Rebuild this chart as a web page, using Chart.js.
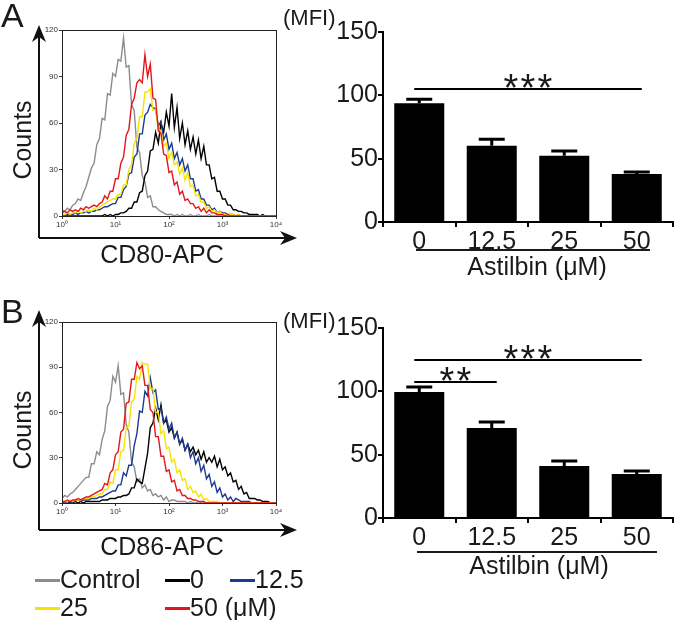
<!DOCTYPE html>
<html>
<head>
<meta charset="utf-8">
<script src="https://cdn.jsdelivr.net/npm/chart.js@4.4.0/dist/chart.umd.min.js"></script>
<style>
  body { margin: 0; background: #fff; width: 676px; height: 620px; position: relative; overflow: hidden;
         font-family: "Liberation Sans", Arial, sans-serif; color: #1a1a1a; }
  canvas { position: absolute; }
  .t { position: absolute; white-space: nowrap; line-height: 1; }
  .rule { position: absolute; background: #1a1a1a; height: 2px; }
  .key { position: absolute; height: 3px; width: 25px; }
</style>
</head>
<body>
<canvas id="histA" width="300" height="250" style="left:0;top:0"></canvas>
<canvas id="barA" width="346" height="260" style="left:330px;top:0"></canvas>
<canvas id="histB" width="300" height="250" style="left:0;top:292px"></canvas>
<canvas id="barB" width="346" height="260" style="left:330px;top:296px"></canvas>

<div class="t" style="left:1px;top:-2px;font-size:34px">A</div>
<div class="t" style="left:1px;top:294px;font-size:34px">B</div>
<div class="t" style="left:283px;top:7px;font-size:22px">(MFI)</div>
<div class="t" style="left:283px;top:310px;font-size:22px">(MFI)</div>
<div class="t" style="left:22px;top:140px;font-size:25px;transform:translate(-50%,-50%) rotate(-90deg)">Counts</div>
<div class="t" style="left:22px;top:430px;font-size:25px;transform:translate(-50%,-50%) rotate(-90deg)">Counts</div>
<div class="t" style="left:162px;top:242px;font-size:25px;transform:translateX(-50%)">CD80-APC</div>
<div class="t" style="left:162px;top:534px;font-size:25px;transform:translateX(-50%)">CD86-APC</div>
<div class="rule" style="left:416px;top:249px;width:234px"></div>
<div class="rule" style="left:417px;top:551px;width:240px"></div>
<div class="t" style="left:537px;top:254px;font-size:25px;transform:translateX(-50%)">Astilbin (&mu;M)</div>
<div class="t" style="left:539px;top:553px;font-size:25px;transform:translateX(-50%)">Astilbin (&mu;M)</div>
<div id="legend"></div>

<script>
// histogram groups (Astilbin dose, uM) and their colours
const groups = ['Control', '0', '12.5', '25', '50'];
const groupColors = ['#8c8c8c', '#000000', '#1d3a8f', '#f5e400', '#e3161c'];
const binsPerDecade = 20; // channel bins per log decade, 10^0 .. 10^4

// CD80-APC histogram counts
const cd80Control = [4,3,5,4,7,8,11,10,15,19, 25,31,34,46,50,63,62,79,78,92, 90,101,100,115,96,97,72,68,44,41,
  26,22,12,13,6,6,4,3,2,1, 1,1,0,1,0,1,0,0,1,0, 0,1,0,0,0,1,0,0,0,0, 0,0,1,0,0,0,0,0,0,0, 0,0,0,0,0,0,0,0,0,0, 0];
const cd80Dose0 = [0,0,0,0,0,0,0,0,0,0, 0,0,0,0,0,0,1,0,1,0, 1,1,2,2,3,5,5,9,9,15, 16,26,29,42,43,54,47,60,54,67,
  58,79,57,70,50,60,46,55,43,51, 40,49,37,45,33,33,24,25,16,16, 11,11,7,7,4,4,3,3,2,2, 1,1,1,1,0,1,0,0,0,0, 0];
const cd80Dose12 = [1,0,1,1,1,2,1,2,2,3, 2,3,3,4,4,5,6,6,7,8, 8,12,12,17,19,27,28,38,40,53, 53,65,67,72,70,69,58,61,49,53,
  43,47,37,41,33,37,29,33,24,24, 16,17,11,11,7,7,4,5,2,3, 2,2,1,1,1,0,1,0,0,0, 0,0,0,0,0,0,0,0,0,0, 0];
const cd80Dose25 = [1,1,2,1,2,2,3,2,3,3, 4,3,5,4,6,7,8,9,10,11, 11,14,14,20,20,30,33,47,50,64, 64,80,80,82,68,69,56,55,45,47,
  37,41,33,35,27,31,23,28,19,20, 13,14,9,9,5,6,3,4,2,3, 1,1,1,1,1,0,1,0,0,0, 0,0,0,0,0,0,0,0,0,0, 0];
const cd80Dose50 = [2,3,2,4,3,4,3,5,4,6, 5,6,7,6,8,9,13,11,16,16, 24,24,34,38,52,56,72,76,86,88, 86,104,90,98,76,75,55,53,40,39,
  28,29,20,22,14,16,10,11,8,8, 5,6,3,5,2,4,2,2,1,1, 1,0,1,0,0,0,0,0,0,0, 0,0,0,0,0,0,0,0,0,0, 0];

// CD86-APC histogram counts
const cd86Control = [3,5,4,6,7,9,11,13,15,17, 17,26,26,34,32,42,48,64,68,84, 80,91,72,73,52,47,27,24,14,16,
  10,12,8,9,5,6,4,5,2,4, 1,2,2,1,1,1,1,0,1,0, 0,1,0,0,0,0,0,0,0,0, 0,0,0,0,0,0,0,0,0,0, 0,0,0,0,0,0,0,0,0,0, 0];
const cd86Dose0 = [0,0,1,0,0,1,0,1,0,1, 1,1,1,1,1,2,2,2,3,3, 3,4,4,5,5,6,10,10,16,14, 13,23,33,50,53,63,55,65,53,55,
  47,50,43,47,39,42,35,39,34,37, 32,35,29,34,27,30,27,31,24,29, 22,24,18,20,14,15,9,11,6,7, 3,3,3,2,2,1,1,1,0,0, 0];
const cd86Dose12 = [1,0,1,1,1,1,2,1,2,2, 2,3,3,3,4,4,5,6,7,8, 8,12,12,20,18,25,25,38,46,61, 60,74,71,83,73,75,62,63,53,57,
  49,53,43,47,39,43,35,39,30,34, 26,30,21,25,16,19,11,14,7,10, 4,6,2,4,1,3,2,1,1,1, 1,0,0,0,0,0,0,0,0,0, 0];
const cd86Dose25 = [1,1,1,2,1,2,2,2,3,3, 3,4,4,5,6,6,9,9,14,13, 22,22,34,35,50,51,67,69,84,82, 93,92,92,76,76,60,60,46,48,36,
  37,27,29,20,22,15,16,9,11,7, 8,4,6,2,3,1,1,1,1,0, 0,0,0,0,0,0,0,0,0,0, 0,0,0,0,0,0,0,0,0,0, 0];
const cd86Dose50 = [1,1,2,1,2,2,3,2,3,4, 4,5,6,7,8,9,13,12,20,22, 32,34,47,49,66,67,82,82,93,89, 91,78,78,62,60,44,44,31,31,21,
  22,14,15,8,9,5,5,3,3,2, 2,1,1,1,0,0,0,0,0,0, 0,0,0,0,0,0,0,0,0,0, 0,0,0,0,0,0,0,0,0,0, 0];

const histYTicks = [0, 30, 60, 90, 120];
const histXTicks = [1, 10, 100, 1000, 10000];
const histXLabels = ['10\u2070', '10\u00b9', '10\u00b2', '10\u00b3', '10\u2074'];

// MFI bar charts
const doses = ['0', '12.5', '25', '50'];
const cd80Mfi = [93.7, 60.2, 52.3, 37.9];
const cd80Sem = [3.2, 5.1, 3.7, 1.6];
const cd86Mfi = [99.5, 71.0, 41.0, 34.7];
const cd86Sem = [3.9, 4.8, 4.0, 2.4];
const mfiTicks = [0, 50, 100, 150];
const cd80Sig = [{ from: 0, to: 3, at: 105, stars: 3 }];
const cd86Sig = [{ from: 0, to: 3, at: 124.7, stars: 3 }, { from: 0, to: 1, at: 107.4, stars: 2 }];

Chart.defaults.font.family = '"Liberation Sans", Arial, sans-serif';
Chart.defaults.color = '#1a1a1a';

function arrowHead(ctx, x, y, dx, dy) {
  // notched arrow pointing along (dx,dy)
  const len = 17, half = 7, px = -dy, py = dx;
  ctx.beginPath();
  ctx.moveTo(x, y);
  ctx.lineTo(x - dx * len + px * half, y - dy * len + py * half);
  ctx.lineTo(x - dx * len * 0.7, y - dy * len * 0.7);
  ctx.lineTo(x - dx * len - px * half, y - dy * len - py * half);
  ctx.closePath();
  ctx.fill();
}

function histogram(id, counts, padBottom, arrowTip) {
  const order = [4, 3, 2, 1, 0];
  const datasets = counts.map((c, k) => ({
    label: groups[k],
    data: c.map((v, i) => ({ x: Math.pow(10, i / binsPerDecade), y: v })),
    borderColor: groupColors[k],
    borderWidth: 1.4,
    pointRadius: 0,
    tension: 0,
    order: order[k]
  }));
  const frame = {
    id: 'frame',
    afterDraw(chart) {
      const { ctx, chartArea: a } = chart;
      ctx.save();
      ctx.strokeStyle = '#222';
      ctx.lineWidth = 1;
      ctx.strokeRect(a.left + 0.5, a.top + 0.5, a.right - a.left, a.bottom - a.top);
      ctx.strokeStyle = '#111';
      ctx.fillStyle = '#111';
      ctx.lineWidth = 2;
      const ax = 39, ay = 238;
      ctx.beginPath();
      ctx.moveTo(ax, ay);
      ctx.lineTo(ax, arrowTip + 10);
      ctx.moveTo(ax, ay);
      ctx.lineTo(287, ay);
      ctx.stroke();
      arrowHead(ctx, ax, arrowTip, 0, -1);
      arrowHead(ctx, 297, ay, 1, 0);
      ctx.restore();
    }
  };
  return new Chart(document.getElementById(id), {
    type: 'line',
    data: { datasets },
    options: {
      responsive: false,
      animation: false,
      layout: { padding: { left: 40, top: 30, right: 24, bottom: padBottom } },
      plugins: { legend: { display: false }, tooltip: { enabled: false } },
      scales: {
        x: {
          type: 'logarithmic', min: 1, max: 10000,
          afterBuildTicks(s) { s.ticks = histXTicks.map(v => ({ value: v })); },
          afterFit(s) { s.height = 14; },
          ticks: { callback: (v, i) => histXLabels[i], font: { size: 8 }, color: '#333', maxRotation: 0, autoSkip: false, padding: 1 },
          grid: { drawOnChartArea: false, tickLength: 3, color: '#333' },
          border: { color: '#222' }
        },
        y: {
          min: 0, max: 120,
          afterBuildTicks(s) { s.ticks = histYTicks.map(v => ({ value: v })); },
          afterFit(s) { s.width = 22; },
          ticks: { font: { size: 8 }, color: '#333', padding: 1 },
          grid: { drawOnChartArea: false, tickLength: 3, color: '#333' },
          border: { color: '#222' }
        }
      }
    },
    plugins: [frame]
  });
}

function mfiChart(id, values, sem, sig) {
  const marks = {
    id: 'marks',
    afterDatasetsDraw(chart) {
      const { ctx, scales: { x, y } } = chart;
      ctx.save();
      ctx.strokeStyle = '#000';
      ctx.lineWidth = 3;
      chart.getDatasetMeta(0).data.forEach((bar, i) => {
        const top = y.getPixelForValue(values[i] + sem[i]);
        ctx.beginPath();
        ctx.moveTo(bar.x, bar.y);
        ctx.lineTo(bar.x, top);
        ctx.moveTo(bar.x - 13, top);
        ctx.lineTo(bar.x + 13, top);
        ctx.stroke();
      });
      ctx.lineWidth = 2;
      ctx.fillStyle = '#1a1a1a';
      ctx.font = '38px "Liberation Sans", Arial, sans-serif';
      ctx.textAlign = 'center';
      sig.forEach(s => {
        const x0 = x.getPixelForValue(s.from) - 5;
        const x1 = x.getPixelForValue(s.to) + 5;
        const yy = y.getPixelForValue(s.at);
        ctx.beginPath();
        ctx.moveTo(x0, yy);
        ctx.lineTo(x1, yy);
        ctx.stroke();
        const cx = (x0 + x1) / 2;
        for (let k = 0; k < s.stars; k++) {
          ctx.fillText('*', cx + (k - (s.stars - 1) / 2) * 17, yy + 12);
        }
      });
      ctx.restore();
    }
  };
  return new Chart(document.getElementById(id), {
    type: 'bar',
    data: {
      labels: doses,
      datasets: [{ data: values, backgroundColor: '#000', barPercentage: 0.69, categoryPercentage: 1 }]
    },
    options: {
      responsive: false,
      animation: false,
      layout: { padding: { left: 0, top: 32, right: 3, bottom: 0 } },
      plugins: { legend: { display: false }, tooltip: { enabled: false } },
      scales: {
        x: {
          afterFit(s) { s.height = 38; },
          ticks: { font: { size: 25 }, padding: 0 },
          grid: { drawOnChartArea: false, tickLength: 5, color: '#000', lineWidth: 2 },
          border: { color: '#000', width: 2 }
        },
        y: {
          min: 0, max: 150,
          afterBuildTicks(s) { s.ticks = mfiTicks.map(v => ({ value: v })); },
          afterFit(s) { s.width = 53; },
          ticks: { font: { size: 25 }, padding: 0 },
          grid: { drawOnChartArea: false, tickLength: 5, color: '#000', lineWidth: 2 },
          border: { color: '#000', width: 2 }
        }
      }
    },
    plugins: [marks]
  });
}

histogram('histA', [cd80Control, cd80Dose0, cd80Dose12, cd80Dose25, cd80Dose50], 20, 25);
histogram('histB', [cd86Control, cd86Dose0, cd86Dose12, cd86Dose25, cd86Dose50], 25, 18);
mfiChart('barA', cd80Mfi, cd80Sem, cd80Sig);
mfiChart('barB', cd86Mfi, cd86Sem, cd86Sig);

// shared legend under panel B
const slots = [[35, 580], [165, 580], [230, 580], [35, 608], [165, 608]];
const legend = document.getElementById('legend');
groups.forEach((g, k) => {
  const [lx, ly] = slots[k];
  const key = document.createElement('div');
  key.className = 'key';
  key.style.left = lx + 'px';
  key.style.top = (ly - 1) + 'px';
  key.style.background = groupColors[k];
  legend.appendChild(key);
  const label = document.createElement('div');
  label.className = 't';
  label.style.left = (lx + 25) + 'px';
  label.style.top = (ly - 13) + 'px';
  label.style.fontSize = '25px';
  label.textContent = k === groups.length - 1 ? g + ' (\u03bcM)' : g;
  legend.appendChild(label);
});
</script>
</body>
</html>
